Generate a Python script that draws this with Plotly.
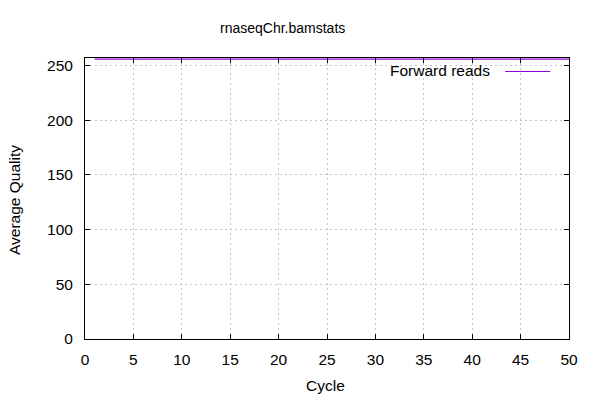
import plotly.graph_objects as go

# Per-cycle average quality (forward reads)
cycles = list(range(1, 51))
avg_quality = [256, 256, 256, 256, 256, 256, 256, 256, 256, 256,
               256, 256, 256, 256, 256, 256, 256, 256, 256, 256,
               256, 256, 256, 256, 256, 256, 256, 256, 256, 256,
               256, 256, 256, 256, 256, 256, 256, 256, 256, 256,
               256, 256, 256, 256, 256, 256, 256, 256, 256, 256]
x_ticks = [0, 5, 10, 15, 20, 25, 30, 35, 40, 45, 50]
y_ticks = [0, 50, 100, 150, 200, 250]

purple = "#9400D3"
font = "Liberation Sans, Arial, sans-serif"
fsize = 15.5

fig = go.Figure()
fig.add_trace(go.Scatter(
    x=cycles, y=avg_quality, mode="lines",
    line=dict(color=purple, width=1.3),
    name="Forward reads", showlegend=False
))

axis_common = dict(
    showline=True, linecolor="black", linewidth=1, mirror="ticks",
    ticks="inside", ticklen=5, tickcolor="black", tickwidth=1,
    showgrid=True, gridcolor="#c4c4c4", griddash="2px,3px", gridwidth=1,
    zeroline=False, tickfont=dict(family=font, size=fsize, color="black"),
)

fig.update_xaxes(range=[0, 50], tickvals=x_ticks, ticklabelstandoff=6, **axis_common)
fig.update_yaxes(range=[0, 257], tickvals=y_ticks, ticklabelstandoff=8, **axis_common)

# title and axis labels placed like gnuplot does
fig.add_annotation(x=0.409, y=1.106, xref="paper", yref="paper", text="rnaseqChr.bamstats",
                   showarrow=False, xanchor="center", yanchor="middle",
                   font=dict(family=font, size=14, color="black"))
fig.add_annotation(x=0.496, y=-0.164, xref="paper", yref="paper", text="Cycle",
                   showarrow=False, xanchor="center", yanchor="middle",
                   font=dict(family=font, size=fsize, color="black"))
fig.add_annotation(x=-0.147, y=0.494, xref="paper", yref="paper", text="Average Quality",
                   showarrow=False, xanchor="center", yanchor="middle", textangle=-90,
                   font=dict(family=font, size=fsize, color="black"))

# gnuplot-style key: text then line sample on the right
fig.add_annotation(x=0.841, y=0.954, xref="paper", yref="paper", text="Forward reads",
                   showarrow=False, xanchor="right", yanchor="middle",
                   font=dict(family=font, size=fsize, color="black"))
fig.add_shape(type="line", xref="paper", yref="paper", x0=0.868, x1=0.961, y0=0.952, y1=0.952,
              line=dict(color=purple, width=1))

fig.update_layout(
    width=600, height=400,
    margin=dict(l=85, r=31, t=58, b=61),
    plot_bgcolor="white", paper_bgcolor="white",
)

# drop the default 8px body margin so the figure sits at the window corner
fig.write_html("out.html", config={"displayModeBar": False},
               post_script="document.body.style.margin='0';")
